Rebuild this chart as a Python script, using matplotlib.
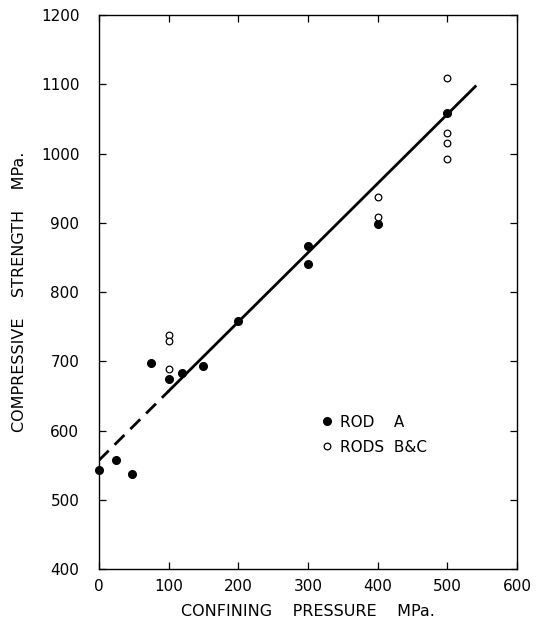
import numpy as np
import matplotlib
matplotlib.use("Agg")
import matplotlib.pyplot as plt

plt.rcParams['font.family'] = ['DejaVu Sans']

# Rod A (filled)
rod_a_x = [0, 25, 48, 75, 100, 120, 150, 200, 300, 300, 400, 500]
rod_a_y = [543, 557, 538, 697, 675, 683, 693, 758, 867, 841, 898, 1059]

# Rods B & C (open)
rods_bc_x = [100, 100, 100, 400, 400, 500, 500, 500, 500]
rods_bc_y = [738, 729, 689, 937, 909, 1109, 1030, 1016, 992]

# fitted line
fit_intercept = 557
fit_slope = 1.0
fit_dash_end = 100
fit_end = 540

fig = plt.figure(figsize=(5.37, 6.31), dpi=100)
ax = fig.add_axes([0.184, 0.098, 0.779, 0.878])

xd = np.array([0, fit_dash_end])
xs = np.array([fit_dash_end, fit_end])
ax.plot(xd, fit_intercept + fit_slope * xd, color='black', lw=2.0,
        linestyle=(0, (5, 3)), solid_capstyle='butt')
ax.plot(xs, fit_intercept + fit_slope * xs, color='black', lw=2.0)

ax.plot(rod_a_x, rod_a_y, 'o', color='black', markersize=5.5,
        linestyle='none', label='ROD    A', clip_on=False, zorder=3)
ax.plot(rods_bc_x, rods_bc_y, 'o', markerfacecolor='white', markeredgecolor='black',
        markeredgewidth=0.9, markersize=4.8, linestyle='none', label='RODS  B&C', zorder=3)

ax.set_xlim(0, 600)
ax.set_ylim(400, 1200)
ax.set_xticks(range(0, 601, 100))
ax.set_yticks(range(400, 1201, 100))
ax.tick_params(direction='in', top=True, right=True, length=5, width=0.9,
               labelsize=11)
ax.tick_params(axis='y', pad=14)
ax.tick_params(axis='x', pad=7)
for s in ax.spines.values():
    s.set_linewidth(1.0)

ax.set_xlabel('CONFINING    PRESSURE    MPa.', fontsize=11.5, labelpad=7)
ax.set_ylabel('COMPRESSIVE    STRENGTH    MPa.', fontsize=11.5, labelpad=10)

ax.legend(loc='upper left', bbox_to_anchor=(0.512, 0.29), frameon=False,
          fontsize=11, handletextpad=0.37, labelspacing=0.65, handlelength=1.0,
          borderaxespad=0)

fig.savefig('out.png', dpi=100)
